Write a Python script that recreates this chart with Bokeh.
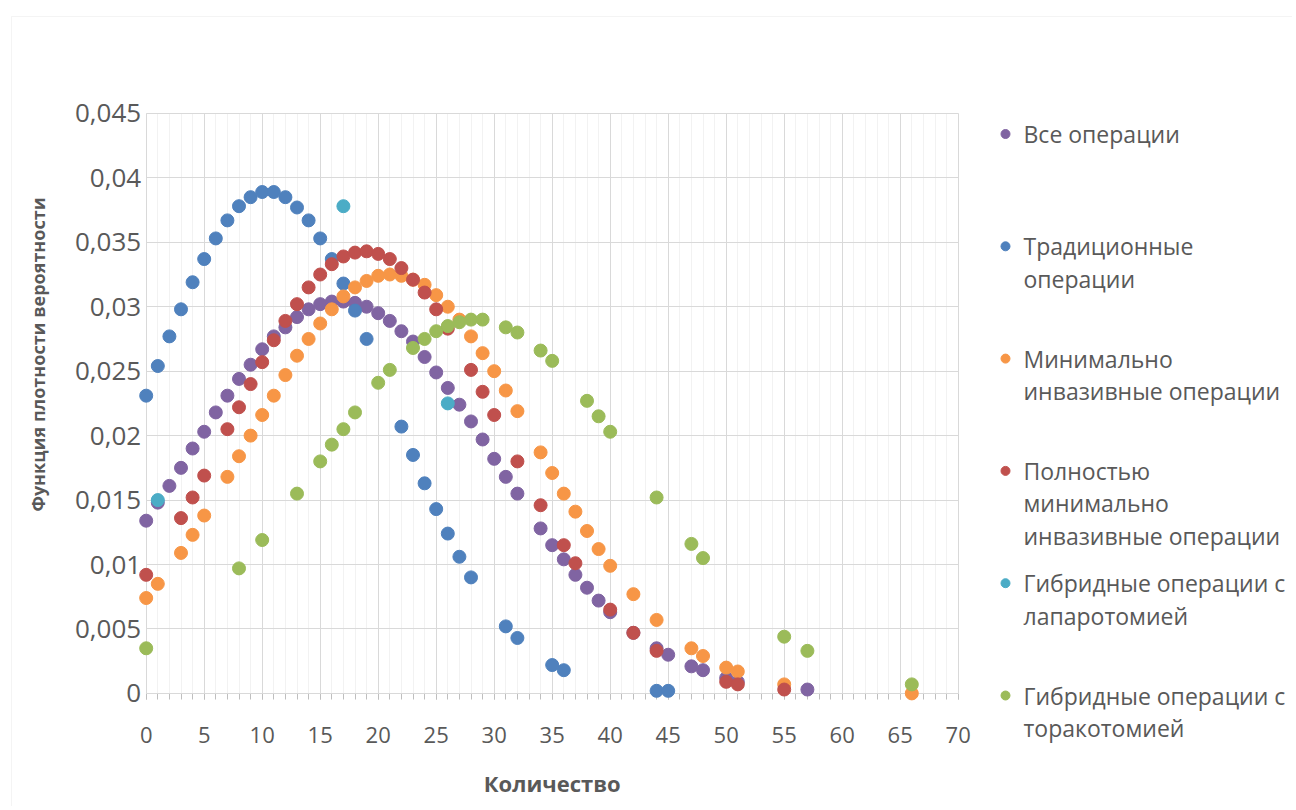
import math
from bokeh.plotting import figure
from bokeh.models import Range1d, FixedTicker, Label, BoxAnnotation
from bokeh.core.properties import value
from bokeh.embed import file_html
from bokeh.resources import INLINE

# ---------------- data ----------------
series_names = [
    "Все операции",
    "Традиционные операции",
    "Минимально инвазивные операции",
    "Полностью минимально инвазивные операции",
    "Гибридные операции с лапаротомией",
    "Гибридные операции с торакотомией",
]
legend_lines = [
    ["Все операции"],
    ["Традиционные", "операции"],
    ["Минимально", "инвазивные операции"],
    ["Полностью", "минимально", "инвазивные операции"],
    ["Гибридные операции с", "лапаротомией"],
    ["Гибридные операции с", "торакотомией"],
]
colors = ["#8064A2", "#4F81BD", "#F79646", "#C0504D", "#4BACC6", "#9BBB59"]

all_x = [0, 1, 2, 3, 4, 5, 6, 7, 8, 9, 10, 11, 12, 13, 14, 15, 16, 17, 18, 19, 20,
         21, 22, 23, 24, 25, 26, 27, 28, 29, 30, 31, 32, 34, 35, 36, 37, 38, 39, 40,
         42, 44, 45, 47, 48, 50, 51, 57]
all_y = [0.0134, 0.0148, 0.0161, 0.0175, 0.0190, 0.0203, 0.0218, 0.0231, 0.0244,
         0.0255, 0.0267, 0.0277, 0.0284, 0.0292, 0.0298, 0.0302, 0.0304, 0.0304,
         0.0303, 0.0300, 0.0295, 0.0289, 0.0281, 0.0273, 0.0261, 0.0249, 0.0237,
         0.0224, 0.0211, 0.0197, 0.0182, 0.0168, 0.0155, 0.0128, 0.0115, 0.0104,
         0.0092, 0.0082, 0.0072, 0.0063, 0.0047, 0.0035, 0.0030, 0.0021, 0.0018,
         0.0012, 0.0009, 0.0003]

trad_x = [0, 1, 2, 3, 4, 5, 6, 7, 8, 9, 10, 11, 12, 13, 14, 15, 16, 17, 18, 19,
          22, 23, 24, 25, 26, 27, 28, 31, 32, 35, 36, 44, 45]
trad_y = [0.0231, 0.0254, 0.0277, 0.0298, 0.0319, 0.0337, 0.0353, 0.0367, 0.0378,
          0.0385, 0.0389, 0.0389, 0.0385, 0.0377, 0.0367, 0.0353, 0.0337, 0.0318,
          0.0297, 0.0275, 0.0207, 0.0185, 0.0163, 0.0143, 0.0124, 0.0106, 0.0090,
          0.0052, 0.0043, 0.0022, 0.0018, 0.0002, 0.0002]

mini_x = [0, 1, 3, 4, 5, 7, 8, 9, 10, 11, 12, 13, 14, 15, 16, 17, 18, 19, 20, 21,
          22, 23, 24, 25, 26, 27, 28, 29, 30, 31, 32, 34, 35, 36, 37, 38, 39, 40,
          42, 44, 47, 48, 50, 51, 55, 66]
mini_y = [0.0074, 0.0085, 0.0109, 0.0123, 0.0138, 0.0168, 0.0184, 0.0200, 0.0216,
          0.0231, 0.0247, 0.0262, 0.0275, 0.0287, 0.0298, 0.0308, 0.0315, 0.0320,
          0.0324, 0.0325, 0.0324, 0.0321, 0.0317, 0.0309, 0.0300, 0.0290, 0.0277,
          0.0264, 0.0250, 0.0235, 0.0219, 0.0187, 0.0171, 0.0155, 0.0141, 0.0126,
          0.0112, 0.0099, 0.0077, 0.0057, 0.0035, 0.0029, 0.0020, 0.0017, 0.0007,
          0.0000]

full_x = [0, 3, 4, 5, 7, 8, 9, 10, 11, 12, 13, 14, 15, 16, 17, 18, 19, 20, 21, 22,
          23, 24, 25, 26, 28, 29, 30, 32, 34, 36, 37, 40, 42, 44, 50, 51, 55]
full_y = [0.0092, 0.0136, 0.0152, 0.0169, 0.0205, 0.0222, 0.0240, 0.0257, 0.0274,
          0.0289, 0.0302, 0.0315, 0.0325, 0.0333, 0.0339, 0.0342, 0.0343, 0.0341,
          0.0337, 0.0330, 0.0321, 0.0311, 0.0298, 0.0283, 0.0251, 0.0234, 0.0216,
          0.0180, 0.0146, 0.0115, 0.0101, 0.0065, 0.0047, 0.0033, 0.0009, 0.0007,
          0.0003]

lap_x = [1, 17, 26]
lap_y = [0.0150, 0.0378, 0.0225]

tor_x = [0, 8, 10, 13, 15, 16, 17, 18, 20, 21, 23, 24, 25, 26, 27, 28, 29, 31, 32,
         34, 35, 38, 39, 40, 44, 47, 48, 55, 57, 66]
tor_y = [0.0035, 0.0097, 0.0119, 0.0155, 0.0180, 0.0193, 0.0205, 0.0218, 0.0241,
         0.0251, 0.0268, 0.0275, 0.0281, 0.0285, 0.0288, 0.0290, 0.0290, 0.0284,
         0.0280, 0.0266, 0.0258, 0.0227, 0.0215, 0.0203, 0.0152, 0.0116, 0.0105,
         0.0044, 0.0033, 0.0007]

x_ticks = [0, 5, 10, 15, 20, 25, 30, 35, 40, 45, 50, 55, 60, 65, 70]
x_minor = list(range(0, 71))
y_ticks = [0, 0.005, 0.01, 0.015, 0.02, 0.025, 0.03, 0.035, 0.04, 0.045]
y_tick_labels = ["0", "0,005", "0,01", "0,015", "0,02", "0,025", "0,03", "0,035",
                 "0,04", "0,045"]
x_title = "Количество"
y_title = "Функция плотности вероятности"

# ---------------- layout (pixels on the page) ----------------
FONT = "Open Sans"
TXT = "#595959"
W, H = 1292, 806            # figure size, placed at page (0, 0)
OFF = 0
X0_PX, XS = 145.7, 812 / 70      # page x of x=0, px per unit
Y0_PX, YS = 692.9, 580 / 0.045   # page y of y=0, px per unit


def px2x(px):
    return (px - X0_PX) / XS


def py2y(py):
    return (Y0_PX - py) / YS


p = figure(width=W, height=H, min_border=0,
           x_range=Range1d(px2x(OFF), px2x(OFF + W)),
           y_range=Range1d(py2y(OFF + H), py2y(OFF)),
           output_backend="svg", toolbar_location=None,
           background_fill_color="white", border_fill_color="white")
p.outline_line_color = None

# outer chart frame (left and top edges visible)
p.add_layout(BoxAnnotation(left=px2x(11), top=py2y(16),
                           right=px2x(OFF + W + 20), bottom=py2y(OFF + H + 20),
                           fill_color=None, line_color="#D9D9D9", line_width=1,
                           level="underlay"))

# x axis
xa = p.xaxis[0]
xa.ticker = FixedTicker(ticks=x_ticks, minor_ticks=x_minor)
xa.fixed_location = 0
xa.bounds = (0, 70)
xa.axis_line_color = "#BFBFBF"
xa.major_tick_line_color = "#BFBFBF"
xa.minor_tick_line_color = "#BFBFBF"
xa.major_tick_in = 7
xa.major_tick_out = 6
xa.minor_tick_in = 0
xa.minor_tick_out = 6
xa.major_label_text_font = FONT
xa.major_label_text_font_size = "22px"
xa.major_label_text_color = TXT
xa.major_label_standoff = 28
xa.level = "underlay"

# y axis
ya = p.yaxis[0]
ya.ticker = FixedTicker(ticks=y_ticks, minor_ticks=[])
ya.major_label_overrides = {t: s for t, s in zip(y_ticks, y_tick_labels)}
ya.fixed_location = 0
ya.bounds = (0, 0.045)
ya.axis_line_color = "#D9D9D9"
ya.major_tick_line_color = None
ya.minor_tick_line_color = None
ya.major_tick_in = 0
ya.major_tick_out = 0
ya.major_label_text_font = FONT
ya.major_label_text_font_size = "26px"
ya.major_label_text_color = TXT
ya.major_label_standoff = 5
ya.level = "underlay"

# grids
p.xgrid.grid_line_color = "#D9D9D9"
p.xgrid.minor_grid_line_color = "#F2F2F2"
p.xgrid.cross_bounds = (0, 0.045)
p.ygrid.grid_line_color = "#D9D9D9"
p.ygrid.cross_bounds = (0, 70)

series = [(all_x, all_y), (trad_x, trad_y), (mini_x, mini_y), (full_x, full_y),
          (lap_x, lap_y), (tor_x, tor_y)]
for (xs, ys), c in zip(series, colors):
    p.scatter(xs, ys, size=13, color=c, line_color=c, marker="circle")

p.add_layout(Label(x=px2x(551.7), y=py2y(782), text=x_title, text_align="center",
                   text_baseline="middle", text_font=FONT, text_font_size="22px",
                   text_font_style="bold", text_color=TXT))
p.add_layout(Label(x=px2x(37), y=py2y(354), text=y_title, text_align="center",
                   text_baseline="middle", text_font=FONT, text_font_size="18px",
                   text_font_style="bold", text_color=TXT, angle=math.pi / 2))

# ---------------- legend ----------------
ITEM_Y0, ITEM_STEP, LINE_STEP = 133.5, 112.3, 32.3
MK_PX, TX_PX = 1005, 1023
mk_x, mk_y, tx, ty, tt = [], [], [], [], []
for i, lines in enumerate(legend_lines):
    y0 = ITEM_Y0 + i * ITEM_STEP
    mk_x.append(px2x(MK_PX))
    mk_y.append(py2y(y0))
    for j, ln in enumerate(lines):
        tx.append(px2x(TX_PX))
        ty.append(py2y(y0 + j * LINE_STEP))
        tt.append(ln)
p.scatter(mk_x, mk_y, size=9, color=colors, line_color=colors, marker="circle")
p.text(x=tx, y=ty, text=tt, text_font=value(FONT), text_font_size=value("23px"),
       text_color=TXT, text_baseline="middle", text_align="left")

open("out.html", "w").write(file_html(p, INLINE))
